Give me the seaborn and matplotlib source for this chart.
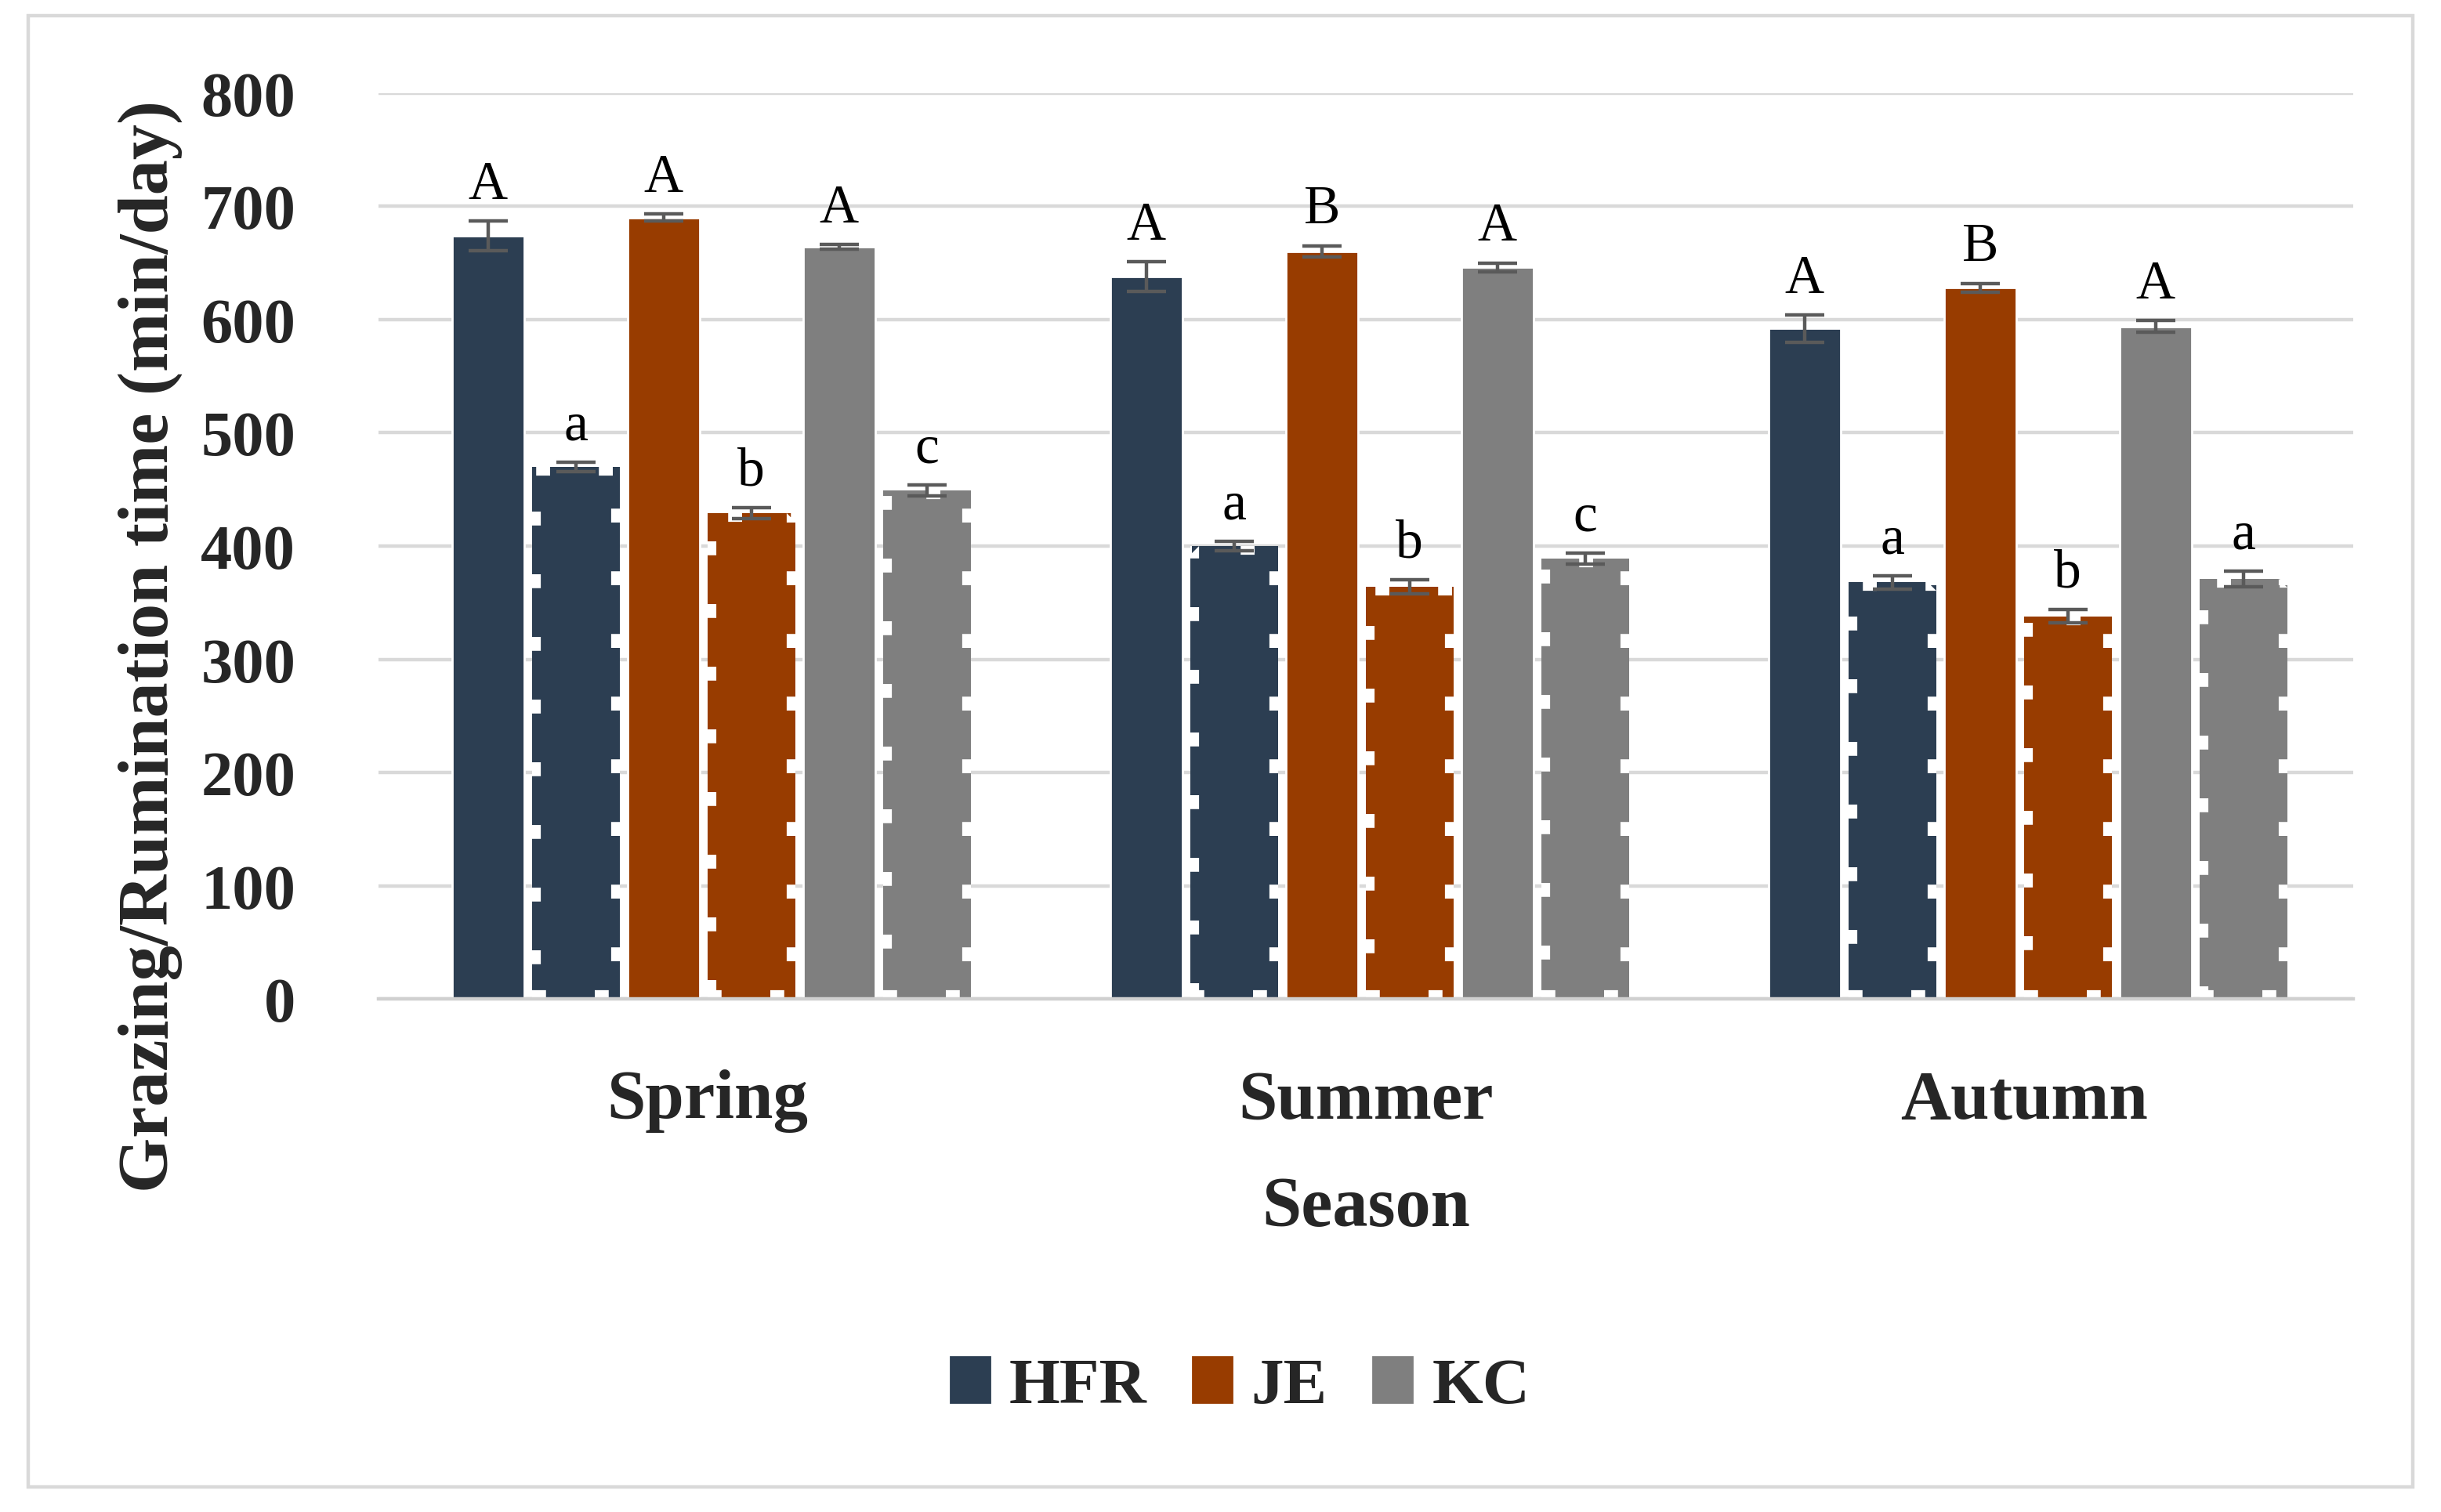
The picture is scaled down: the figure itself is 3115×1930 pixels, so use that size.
import seaborn as sns
import matplotlib.pyplot as plt
import matplotlib.patches as mpatches
import pandas as pd

# Daten
seasons = ['Spring', 'Summer', 'Autumn']
breeds = ['HFR', 'JE', 'KC']
grazing_hfr = [674, 638, 592]
grazing_je = [690, 660, 628]
grazing_kc = [664, 646, 594]
rumination_hfr = [470, 400, 368]
rumination_je = [429, 364, 338]
rumination_kc = [449, 389, 371]
se_grazing_hfr = [13, 13, 12]
se_grazing_je = [3, 5, 4]
se_grazing_kc = [2, 4, 5]
se_rumination_hfr = [4, 4, 6]
se_rumination_je = [5, 6, 6]
se_rumination_kc = [5, 5, 7]
letters_grazing_hfr = ['A', 'A', 'A']
letters_grazing_je = ['A', 'B', 'B']
letters_grazing_kc = ['A', 'A', 'A']
letters_rumination_hfr = ['a', 'a', 'a']
letters_rumination_je = ['b', 'b', 'b']
letters_rumination_kc = ['c', 'c', 'a']

colors = {'HFR': '#2c3e52', 'JE': '#983c00', 'KC': '#7f7f7f'}

# Tabelle fuer seaborn
series = [
    ('HFR Grazing', 'HFR', False, grazing_hfr, se_grazing_hfr, letters_grazing_hfr),
    ('HFR Rumination', 'HFR', True, rumination_hfr, se_rumination_hfr, letters_rumination_hfr),
    ('JE Grazing', 'JE', False, grazing_je, se_grazing_je, letters_grazing_je),
    ('JE Rumination', 'JE', True, rumination_je, se_rumination_je, letters_rumination_je),
    ('KC Grazing', 'KC', False, grazing_kc, se_grazing_kc, letters_grazing_kc),
    ('KC Rumination', 'KC', True, rumination_kc, se_rumination_kc, letters_rumination_kc),
]
rows = []
for name, breed, rum, vals, ses, lets in series:
    for s, v in zip(seasons, vals):
        rows.append({'Season': s, 'Serie': name, 'Zeit': v})
df = pd.DataFrame(rows)
hue_order = [s[0] for s in series]
palette = {s[0]: colors[s[1]] for s in series}

sns.set_style('white')
plt.rcParams['font.family'] = ['Liberation Serif', 'DejaVu Serif']

fig = plt.figure(figsize=(15.575, 9.655), dpi=200)
ax = fig.add_axes([0.155, 0.339, 0.809, 0.599])

GAP = 0.18
sns.barplot(data=df, x='Season', y='Zeit', hue='Serie', order=seasons,
            hue_order=hue_order, palette=palette, width=0.8, gap=GAP,
            errorbar=None, legend=False, saturation=1, ax=ax, zorder=2)

# Fehlerbalken, Buchstaben und Muster fuer Wiederkauen
for cont, (name, breed, rum, vals, ses, lets) in zip(ax.containers, series):
    for bar, v, e, l in zip(cont.patches, vals, ses, lets):
        xc = bar.get_x() + bar.get_width() / 2
        if rum:
            # breitere Balken mit weissem, gezacktem Rand
            w = bar.get_width() / (1 - GAP)
            bar.set_x(xc - w / 2)
            bar.set_width(w)
            bar.set_edgecolor('white')
            bar.set_linewidth(8)
            bar.set_linestyle((0, (0.8, 2.8)))
            bar.set_clip_path(bar)
        ax.errorbar(xc, v, yerr=e, color='#5a5a5a', capsize=9, elinewidth=1.6,
                    capthick=1.6, zorder=4)
        ax.text(xc, v + e + 10, l, ha='center', va='bottom', fontsize=25,
                color='black', zorder=5)

ax.set_xlim(-0.5, 2.5)
ax.set_ylim(0, 800)
ax.set_yticks(range(0, 801, 100))
ax.yaxis.grid(True, color='#d9d9d9', linewidth=1.6, zorder=0)
ax.set_axisbelow(True)
for side in ['top', 'right', 'left']:
    ax.spines[side].set_visible(False)
ax.spines['bottom'].set_color('#d0d0d0')
ax.spines['bottom'].set_linewidth(1.6)
ax.tick_params(axis='y', length=0, labelsize=29, pad=38)
ax.tick_params(axis='x', length=0, labelsize=32, pad=32)
for t in ax.get_xticklabels() + ax.get_yticklabels():
    t.set_fontweight('bold')
ax.set_xlabel('Season', fontsize=32.5, fontweight='bold', labelpad=20)
ax.set_ylabel('Grazing/Rumination time (min/day)', fontsize=32.5,
              fontweight='bold')
ax.yaxis.set_label_coords(-0.099, 0.39)

handles = [mpatches.Patch(color=colors[b], label=b) for b in breeds]
fig.legend(handles=handles, loc='center', bbox_to_anchor=(0.508, 0.083),
           ncol=3, frameon=False, handlelength=0.6, handleheight=0.7,
           handletextpad=0.3, columnspacing=0.7,
           prop={'family': 'Liberation Serif', 'weight': 'bold', 'size': 30})

fig.patches.append(mpatches.Rectangle((0.0116, 0.0166), 0.977, 0.9725,
                                      transform=fig.transFigure, fill=False,
                                      edgecolor='#d9d9d9', linewidth=1.6))

fig.savefig('out.png', dpi=200, facecolor='white')
